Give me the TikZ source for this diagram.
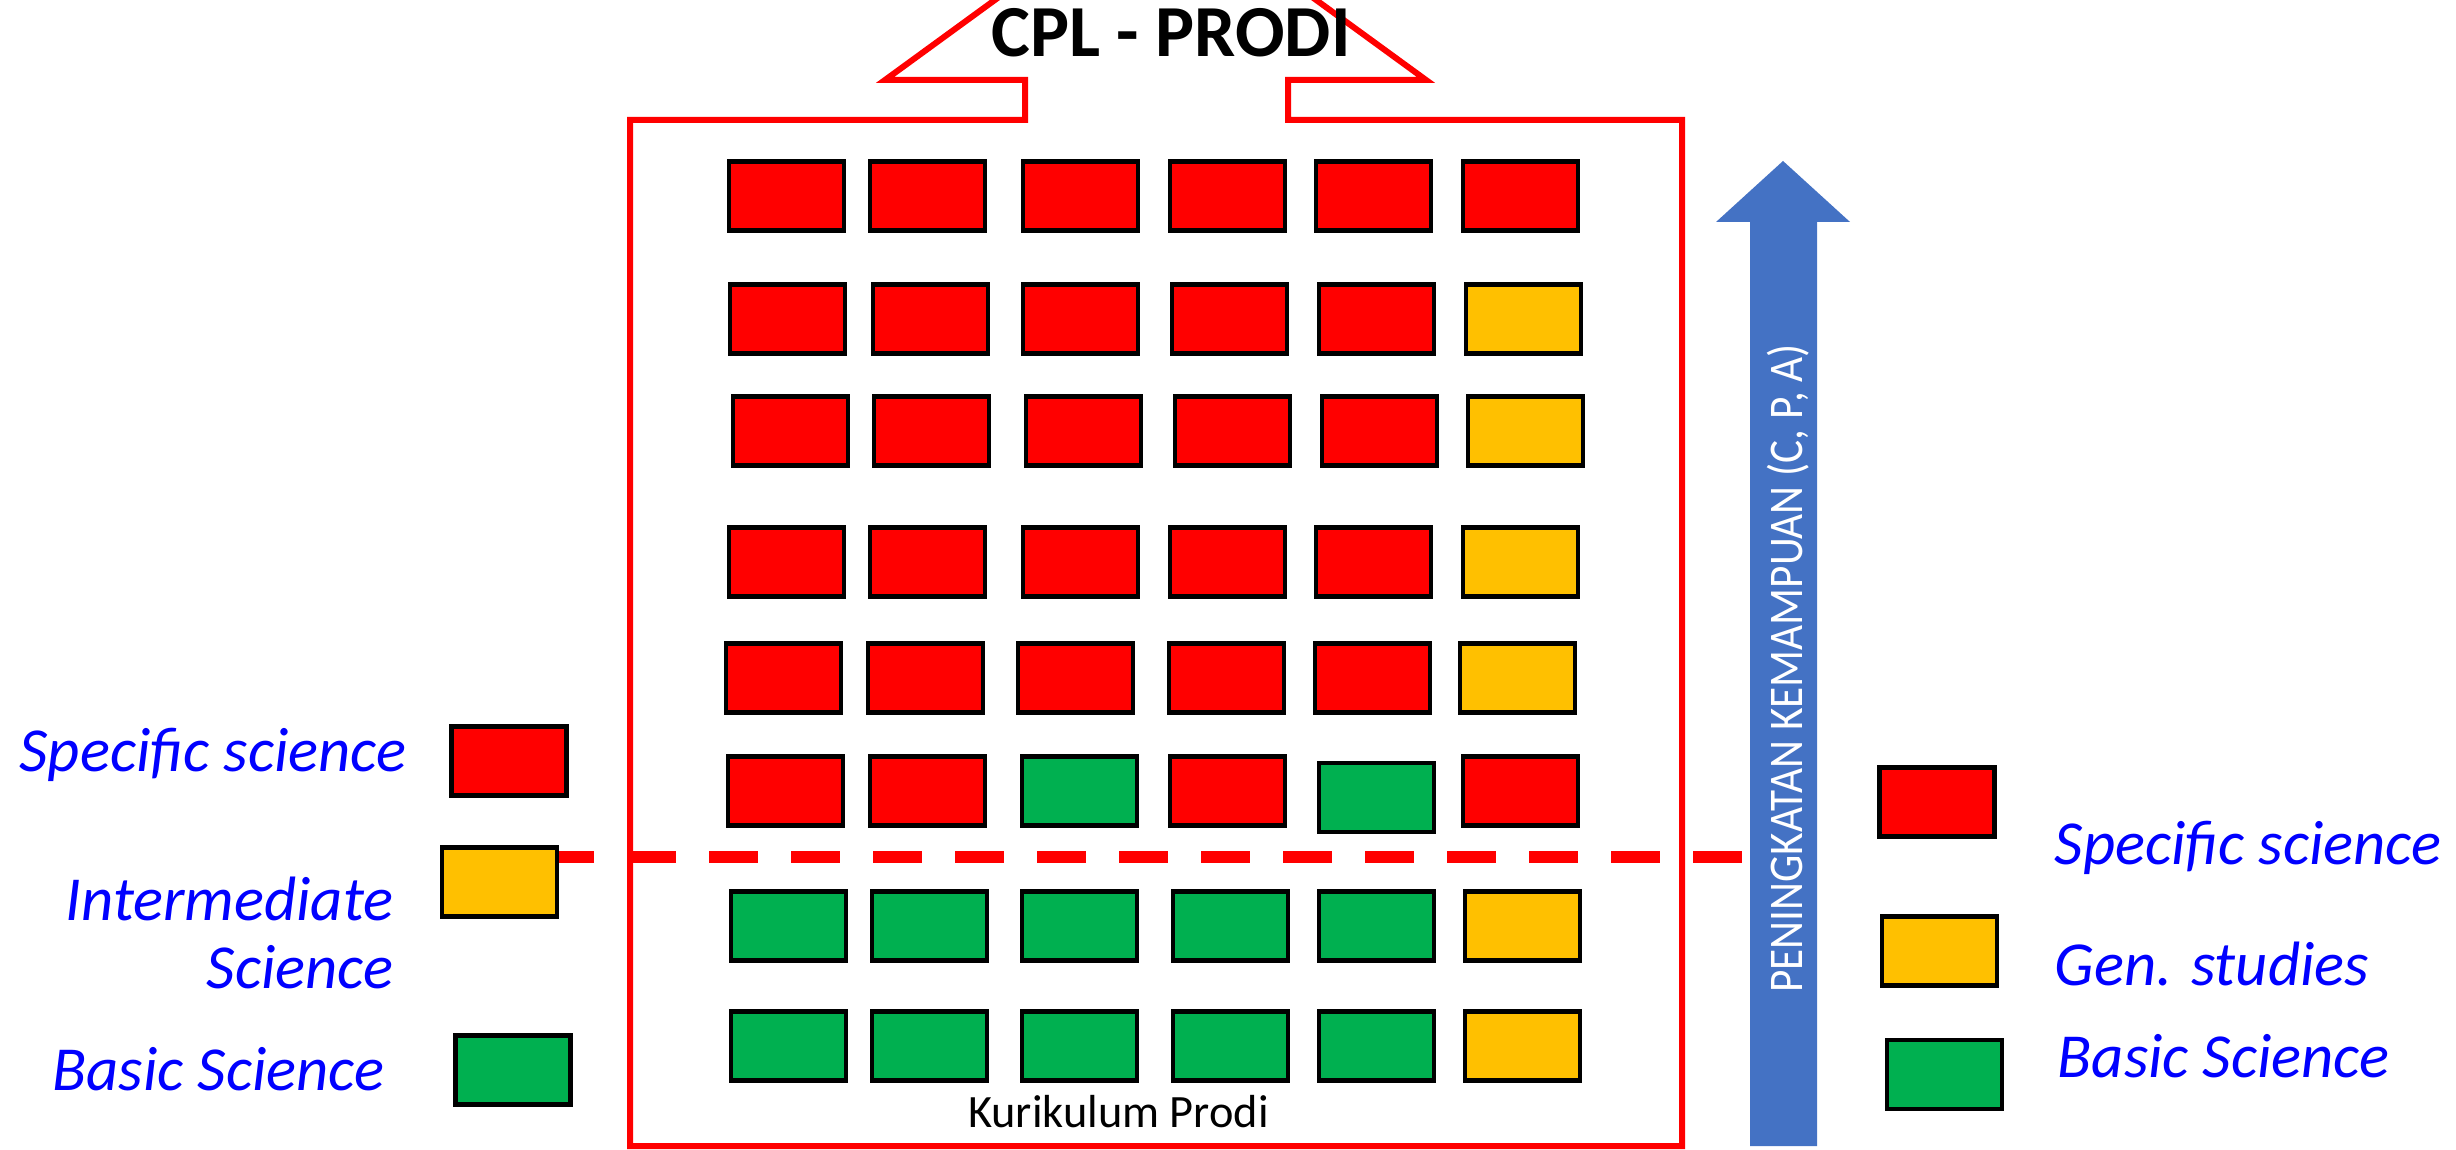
\documentclass[tikz,border=0pt]{standalone}
\usepackage{fontspec}
\setmainfont{Carlito}
\definecolor{cred}{HTML}{FF0000}
\definecolor{cyel}{HTML}{FFC000}
\definecolor{cgrn}{HTML}{00B050}
\definecolor{cblu}{HTML}{4472C4}
\definecolor{ctxt}{HTML}{0000FF}
\tikzset{
  crs/.style={draw=black, line width=1.35pt, minimum width=34.4pt, minimum height=20.6pt, inner sep=0pt, outer sep=0pt},
  lbl/.style={text=ctxt, font=\fontsize{18.8}{21}\selectfont\itshape, inner sep=0pt},
  frame/.style={draw=cred, line width=1.8pt, miter limit=10},
  dashline/.style={draw=cred, line width=3.6pt, dash pattern=on 14.7pt off 9.9pt},
}
\begin{document}
\begin{tikzpicture}[x=0.3pt,y=-0.3pt]
\useasboundingbox (0,0) rectangle (2456,1150);

% dashed threshold line
\coordinate (dL) at (545,857);
\coordinate (dR) at (1748,857);
\draw[dashline] (dL) -- (dR);

% big curriculum frame with upward arrow
\draw[frame] (1025,80) -- (885,80) -- (1155.5,-117) -- (1426,80) -- (1288,80) -- (1288,120)
  -- (1682,120) -- (1682,1146) -- (630,1146) -- (630,120) -- (1025,120) -- cycle;
\node[inner sep=0pt, anchor=base, font=\fontsize{22}{25}\selectfont\bfseries] (cpl) at (1171,57) {CPL - PRODI};
\node[inner sep=0pt, anchor=base, font=\fontsize{13.9}{16}\selectfont] (kur) at (1118.5,1127) {Kurikulum Prodi};

% blue arrow
\fill[cblu] (1750,1146) -- (1750,222) -- (1716,222) -- (1783,161) -- (1850,222) -- (1817,222) -- (1817,1146) -- cycle;
\node[rotate=90, anchor=base, inner sep=0pt, text=white, font=\fontsize{14.5}{16}\selectfont] (peningkatan) at (1802,668.5) {\scalebox{0.894}[1]{PENINGKATAN KEMAMPUAN (C, P, A)}};

% course boxes
\foreach \x/\c [count=\i] in {786.5/cred,927.5/cred,1080.5/cred,1227.5/cred,1373.5/cred,1520.5/cred}
  \node[crs, fill=\c] (r1c\i) at (\x,196) {};
\foreach \x/\c [count=\i] in {787.5/cred,930.5/cred,1080.5/cred,1229.5/cred,1376.5/cred,1523.5/cyel}
  \node[crs, fill=\c] (r2c\i) at (\x,319) {};
\foreach \x/\c [count=\i] in {790.5/cred,931.5/cred,1083.5/cred,1232.5/cred,1379.5/cred,1525.5/cyel}
  \node[crs, fill=\c] (r3c\i) at (\x,431) {};
\foreach \x/\c [count=\i] in {786.5/cred,927.5/cred,1080.5/cred,1227.5/cred,1373.5/cred,1520.5/cyel}
  \node[crs, fill=\c] (r4c\i) at (\x,562) {};
\foreach \x/\c [count=\i] in {783.5/cred,925.5/cred,1075.5/cred,1226.5/cred,1372.5/cred,1517.5/cyel}
  \node[crs, fill=\c] (r5c\i) at (\x,678) {};
\foreach \x/\y/\c [count=\i] in {785.5/791/cred,927.5/791/cred,1079.5/791/cgrn,1227.5/791/cred,1376.5/797.5/cgrn,1520.5/791/cred}
  \node[crs, fill=\c] (r6c\i) at (\x,\y) {};
\foreach \x/\c [count=\i] in {788.5/cgrn,929.5/cgrn,1079.5/cgrn,1230.5/cgrn,1376.5/cgrn,1522.5/cyel}
  \node[crs, fill=\c] (r7c\i) at (\x,926) {};
\foreach \x/\c [count=\i] in {788.5/cgrn,929.5/cgrn,1079.5/cgrn,1230.5/cgrn,1376.5/cgrn,1522.5/cyel}
  \node[crs, fill=\c] (r8c\i) at (\x,1046) {};

% left legend
\node[crs, fill=cred] (lred) at (509,761) {};
\node[crs, fill=cyel] (lyel) at (499.5,882) {};
\node[crs, fill=cgrn] (lgrn) at (513,1070) {};
\node[lbl, anchor=base west] (lspec) at (19,772) {Specific science};
\node[lbl, anchor=base east] (linter) at (394,920) {Intermediate};
\node[lbl, anchor=base east] (lsci) at (394,988) {Science};
\node[lbl, anchor=base west] (lbasic) at (52,1090) {Basic Science};

% right legend
\node[crs, fill=cred] (rred) at (1937,802) {};
\node[crs, fill=cyel] (ryel) at (1939.5,951) {};
\node[crs, fill=cgrn] (rgrn) at (1944.5,1074.5) {};
\node[lbl, anchor=base west] (rspec) at (2054,865) {Specific science};
\node[lbl, anchor=base west] (rgen) at (2054,985) {Gen. studies};
\node[lbl, anchor=base west] (rbasic) at (2057,1077) {Basic Science};
\end{tikzpicture}
\end{document}
